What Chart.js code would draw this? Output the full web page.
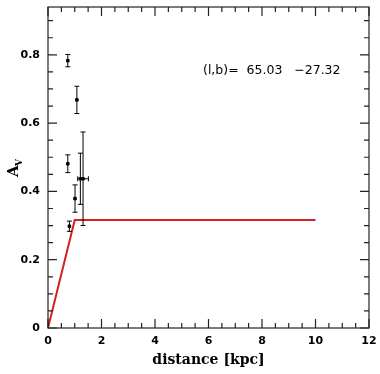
<!DOCTYPE html>
<html><head><meta charset="utf-8">
<script src="https://cdn.jsdelivr.net/npm/chart.js@4/dist/chart.umd.min.js"></script>
<style>html,body{margin:0;padding:0;background:#fff}#wrap{width:380px;height:374px}</style>
</head><body><div id="wrap"><canvas id="c"></canvas></div>
<script>
// data
const distances = [0.74, 1.08, 0.74, 1.01, 1.21, 1.31, 0.80];
const avValues  = [0.783, 0.668, 0.481, 0.379, 0.437, 0.437, 0.298];
const avErrors  = [0.018, 0.040, 0.026, 0.040, 0.075, 0.137, 0.015];
const distErrors= [0, 0, 0, 0, 0, 0.20, 0];
const modelDist = [0, 1.0, 10];
const modelAv   = [0, 0.316, 0.316];
const xTicks = [0, 2, 4, 6, 8, 10, 12];
const yTicks = [0, 0.2, 0.4, 0.6, 0.8];
const xMinorStep = 0.5, yMinorStep = 0.05;
const annotation = "(l,b)=  65.03   \u221227.32";

const tickFont = {family: "'DejaVu Sans', sans-serif", size: 11, weight: 'bold'};

const inwardTicks = {
  id: 'inwardTicks',
  afterDraw(chart) {
    const {ctx, chartArea: a, scales: {x, y}} = chart;
    ctx.save();
    ctx.strokeStyle = '#222'; ctx.lineWidth = 1.2;
    ctx.strokeRect(a.left, a.top, a.right - a.left, a.bottom - a.top);
    ctx.beginPath();
    for (let v = x.min; v <= x.max + 1e-9; v += xMinorStep) {
      const px = x.getPixelForValue(v);
      const major = Math.abs(v / 2 - Math.round(v / 2)) < 1e-6;
      const L = major ? 9 : 5;
      ctx.moveTo(px, a.bottom); ctx.lineTo(px, a.bottom - L);
      ctx.moveTo(px, a.top); ctx.lineTo(px, a.top + L);
    }
    for (let v = 0; v <= y.max + 1e-9; v += yMinorStep) {
      const py = y.getPixelForValue(v);
      const major = Math.abs(v / 0.2 - Math.round(v / 0.2)) < 1e-6;
      const L = major ? 9 : 5;
      ctx.moveTo(a.left, py); ctx.lineTo(a.left + L, py);
      ctx.moveTo(a.right, py); ctx.lineTo(a.right - L, py);
    }
    ctx.stroke();
    // error bars
    ctx.strokeStyle = '#000'; ctx.lineWidth = 1;
    ctx.beginPath();
    for (let i = 0; i < distances.length; i++) {
      const px = x.getPixelForValue(distances[i]);
      const y1 = y.getPixelForValue(avValues[i] - avErrors[i]);
      const y2 = y.getPixelForValue(avValues[i] + avErrors[i]);
      ctx.moveTo(px, y1); ctx.lineTo(px, y2);
      ctx.moveTo(px - 2.5, y1); ctx.lineTo(px + 2.5, y1);
      ctx.moveTo(px - 2.5, y2); ctx.lineTo(px + 2.5, y2);
      if (distErrors[i] > 0) {
        const py = y.getPixelForValue(avValues[i]);
        const x1 = x.getPixelForValue(distances[i] - distErrors[i]);
        const x2 = x.getPixelForValue(distances[i] + distErrors[i]);
        ctx.moveTo(x1, py); ctx.lineTo(x2, py);
        ctx.moveTo(x1, py - 2.5); ctx.lineTo(x1, py + 2.5);
        ctx.moveTo(x2, py - 2.5); ctx.lineTo(x2, py + 2.5);
      }
    }
    ctx.stroke();
    // annotation
    ctx.fillStyle = '#000';
    ctx.font = "12.5px 'DejaVu Sans', sans-serif";
    ctx.textBaseline = 'middle'; ctx.textAlign = 'left';
    ctx.fillText(annotation, 203, 71);
    // y-axis title A_V
    ctx.save();
    ctx.translate(18, 171);
    ctx.rotate(-Math.PI / 2);
    ctx.font = "bold 15px 'DejaVu Serif', serif";
    ctx.textAlign = 'left'; ctx.textBaseline = 'alphabetic';
    ctx.fillText('A', -6, 0);
    ctx.font = "bold 9px 'DejaVu Serif', serif";
    ctx.fillText('V', 5, 4);
    ctx.restore();
    ctx.restore();
  }
};

new Chart(document.getElementById('c'), {
  type: 'scatter',
  data: {
    datasets: [
      {
        type: 'line', data: modelDist.map((d, i) => ({x: d, y: modelAv[i]})),
        borderColor: '#d42020', borderWidth: 2, pointRadius: 0, fill: false, tension: 0, order: 2
      },
      {
        data: distances.map((d, i) => ({x: d, y: avValues[i]})),
        pointStyle: 'rect', pointRadius: 1.8, backgroundColor: '#000', borderColor: '#000', order: 1
      }
    ]
  },
  options: {
    responsive: true, maintainAspectRatio: false, animation: false,
    layout: {padding: {top: 7, right: 11, left: 0, bottom: 0}},
    plugins: {legend: {display: false}, tooltip: {enabled: false}},
    scales: {
      x: {
        type: 'linear', min: 0, max: 12,
        afterBuildTicks: s => { s.ticks = xTicks.map(v => ({value: v})); },
        afterFit: s => { s.height = 46; s.paddingLeft = 0; s.paddingRight = 0; },
        grid: {display: false, drawTicks: false},
        border: {display: false},
        ticks: {color: '#000', font: tickFont, padding: 7, maxRotation: 0, autoSkip: false},
        title: {display: true, text: 'distance [kpc]', color: '#000',
          font: {family: "'DejaVu Serif', serif", size: 14, weight: 'bold'}, padding: {top: 0, bottom: 5}}
      },
      y: {
        type: 'linear', min: 0, max: 0.94,
        afterBuildTicks: s => { s.ticks = yTicks.map(v => ({value: v})); },
        afterFit: s => { s.width = 48; s.paddingTop = 0; s.paddingBottom = 0; },
        grid: {display: false, drawTicks: false},
        border: {display: false},
        ticks: {color: '#000', font: tickFont, padding: 8, autoSkip: false,
          callback: v => v === 0 ? '0' : v.toFixed(1)}
      }
    }
  },
  plugins: [inwardTicks]
});
</script></body></html>
